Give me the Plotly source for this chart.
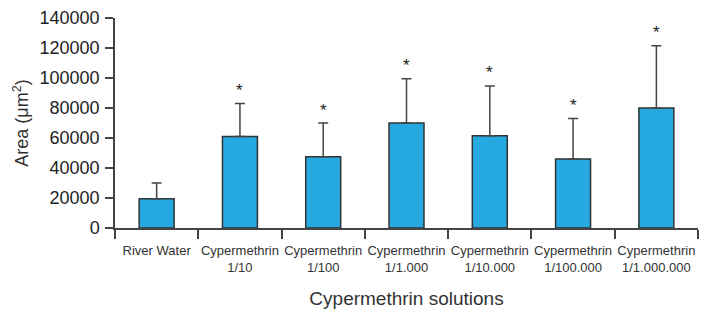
import plotly.graph_objects as go

categories = ["River Water", "Cypermethrin<br>1/10", "Cypermethrin<br>1/100", "Cypermethrin<br>1/1.000",
              "Cypermethrin<br>1/10.000", "Cypermethrin<br>1/100.000", "Cypermethrin<br>1/1.000.000"]
means = [19500, 61000, 47500, 70000, 61500, 46000, 80000]
err_plus = [10500, 22000, 22500, 29500, 33200, 27000, 41500]
significant = [False, True, True, True, True, True, True]
yticks = [0, 20000, 40000, 60000, 80000, 100000, 120000, 140000]

xs = list(range(len(categories)))

fig = go.Figure()
fig.add_trace(go.Bar(
    x=xs, y=means, width=0.42,
    marker=dict(color="#25A9E0", line=dict(color="#333333", width=1.5)),
    error_y=dict(type="data", symmetric=False, array=err_plus, arrayminus=[0]*len(means),
                 color="#444444", thickness=1.5, width=5),
))

for i, (m, e, s) in enumerate(zip(means, err_plus, significant)):
    if s:
        fig.add_annotation(x=i, y=m + e, text="*", showarrow=False, yshift=13,
                           font=dict(size=17, color="#222222", family="Liberation Sans, Arial"))

# page body adds an 8px offset, so the figure is sized 702x306
fig.update_layout(
    width=702, height=306,
    margin=dict(l=107, r=12, t=10, b=86),
    plot_bgcolor="white", paper_bgcolor="white",
    showlegend=False,
    font=dict(family="Liberation Sans, Arial", color="#222222"),
)
fig.update_xaxes(
    automargin=False,
    range=[-0.5, len(categories) - 0.5],
    tickmode="array", tickvals=xs, ticktext=categories,
    tickfont=dict(family="Liberation Sans, Arial", size=13, color="#333333"),
    ticklabelstandoff=10,
    showline=True, linecolor="#444444", linewidth=1.5,
    ticks="", showgrid=False, zeroline=False,
    title=dict(text="Cypermethrin solutions", font=dict(size=19, color="#333333"), standoff=17),
)
fig.update_xaxes(minor=dict(ticks="outside", tickvals=[i - 0.5 for i in range(len(categories) + 1)],
                            ticklen=9, tickwidth=1.5, tickcolor="#444444"))
fig.update_yaxes(
    automargin=False,
    range=[0, 140000], tickvals=yticks, ticktext=[str(v) for v in yticks],
    tickfont=dict(size=18, color="#222222"),
    showline=True, linecolor="#444444", linewidth=1.5,
    ticks="outside", ticklen=8, tickwidth=1.5, tickcolor="#444444",
    ticklabelstandoff=2,
    showgrid=False, zeroline=False,
    title=dict(text="Area (μm<sup>2</sup>)", font=dict(size=18, color="#333333"), standoff=6),
)

fig.write_html("out.html")
